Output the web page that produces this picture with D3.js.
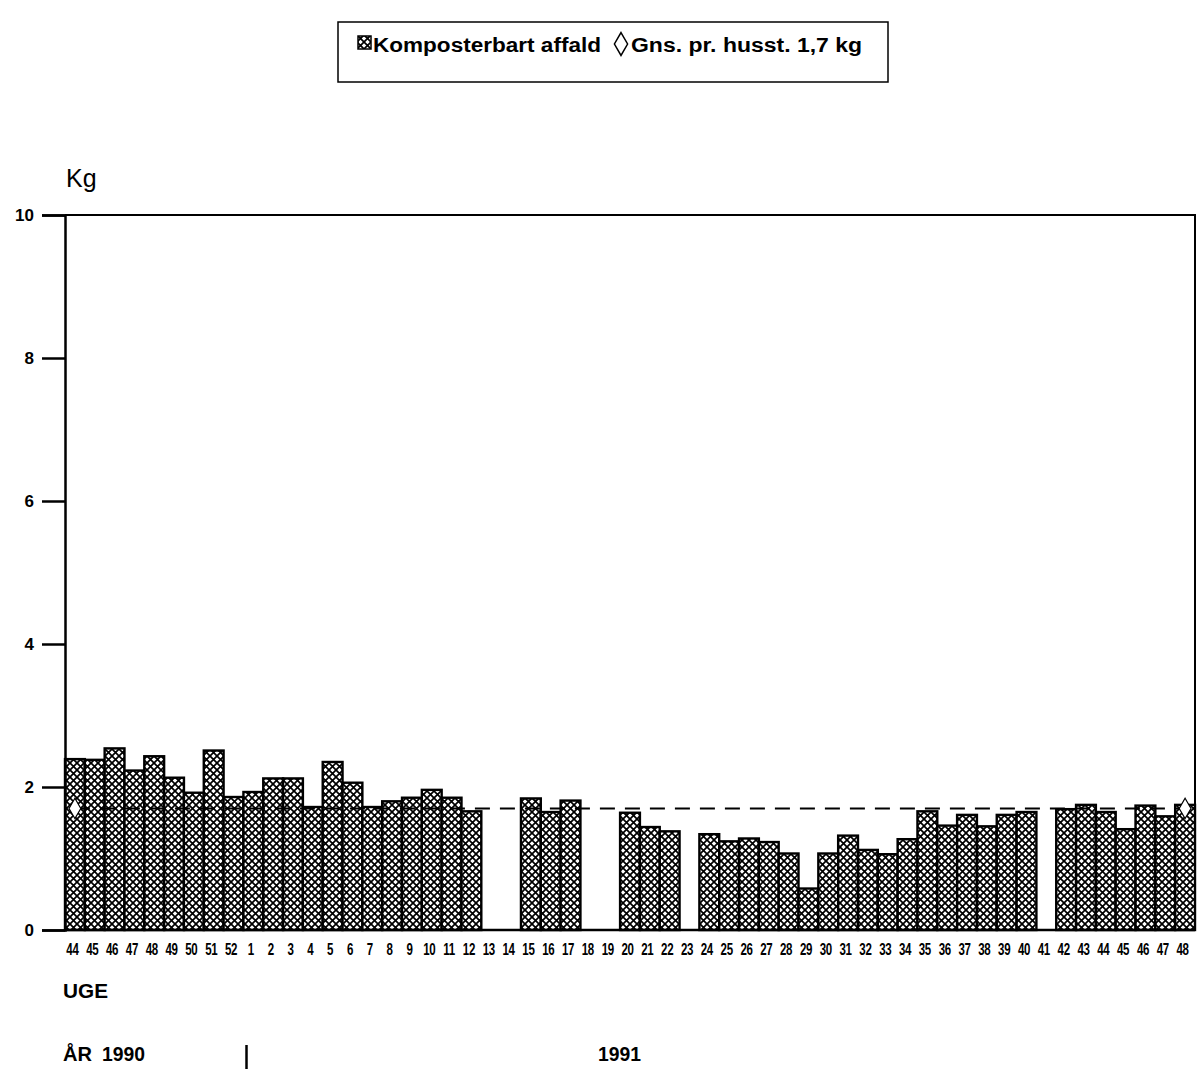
<!DOCTYPE html>
<html>
<head>
<meta charset="utf-8">
<script src="https://cdn.jsdelivr.net/npm/d3@7"></script>
<style>
  html, body { margin: 0; padding: 0; background: #fff; }
  svg { display: block; }
  text { font-family: "Liberation Sans", Arial, sans-serif; fill: #000; }
</style>
</head>
<body>
<script>
// ---- data ----
const weeks = [44,45,46,47,48,49,50,51,52,
  1,2,3,4,5,6,7,8,9,10,11,12,13,14,15,16,17,18,19,20,21,22,23,24,25,26,27,28,29,30,
  31,32,33,34,35,36,37,38,39,40,41,42,43,44,45,46,47,48];
const years = weeks.map((w, i) => i < 9 ? 1990 : 1991);
const values = [2.39,2.38,2.54,2.23,2.43,2.13,1.92,2.51,1.86,
  1.93,2.12,2.12,1.72,2.35,2.06,1.72,1.80,1.85,1.96,1.85,1.66,0,0,1.84,1.65,1.81,0,0,1.64,1.44,1.38,0,
  1.34,1.24,1.28,1.23,1.07,0.58,1.07,1.32,1.12,1.06,1.27,1.66,1.46,1.61,1.45,1.61,1.65,0,
  1.69,1.75,1.65,1.41,1.74,1.59,1.75];
const avgValue = 1.7;
const yTicks = [0,2,4,6,8,10];
const legendLabels = ["Komposterbart affald", "Gns. pr. husst. 1,7 kg"];

// ---- layout ----
const W = 1200, H = 1069;
const svg = d3.select("body").append("svg").attr("width", W).attr("height", H);

const defs = svg.append("defs");
const P = 7;
const pat = defs.append("pattern").attr("id", "hatch")
  .attr("patternUnits", "userSpaceOnUse").attr("width", P).attr("height", P);
pat.append("rect").attr("width", P).attr("height", P).attr("fill", "#fff");
pat.append("path").attr("d", `M-1,-1 L${P+1},${P+1} M-1,${P+1} L${P+1},-1`)
  .attr("stroke", "#000").attr("stroke-width", 1.7).attr("fill", "none");

const keys = weeks.map((w, i) => years[i] + "-" + w);
const x = d3.scaleBand().domain(keys).range([65, 1195]).padding(0);
const y = d3.scaleLinear().domain([0, 10]).range([930, 215]);

// frame (top and right)
svg.append("path").attr("d", `M65,${y(10)} H1195 V${y(0)}`)
  .attr("fill", "none").attr("stroke", "#000").attr("stroke-width", 2);

// bars
const barData = values.map((v, i) => ({ k: keys[i], v }));
svg.append("g").selectAll("rect").data(barData.filter(d => d.v > 0)).join("rect")
  .attr("x", d => x(d.k))
  .attr("y", d => y(d.v))
  .attr("width", x.bandwidth())
  .attr("height", d => y(0) - y(d.v))
  .attr("fill", "url(#hatch)")
  .attr("stroke", "#000").attr("stroke-width", 2.4);

// y axis
const yAxis = d3.axisLeft(y).tickValues(yTicks).tickSize(23).tickPadding(8).tickFormat(d3.format("d"));
const gy = svg.append("g").attr("transform", "translate(65,0)").call(yAxis);
gy.select(".domain").attr("stroke-width", 2.5);
gy.selectAll(".tick line").attr("stroke-width", 2.5);
gy.selectAll(".tick text").style("font-size", "17px").style("font-weight", "bold")
  .style("font-family", "Liberation Sans, Arial, sans-serif");

// baseline
svg.append("line").attr("x1", 65).attr("x2", 1195).attr("y1", y(0)).attr("y2", y(0))
  .attr("stroke", "#000").attr("stroke-width", 2.5);

// x axis labels
const xAxis = d3.axisBottom(x).tickSize(0).tickFormat((k, i) => weeks[i]);
const gx = svg.append("g").attr("transform", `translate(0,${y(0)})`).call(xAxis);
gx.select(".domain").remove();
gx.selectAll(".tick text")
  .attr("y", 25).attr("dy", null)
  .attr("transform", "translate(-2.5,0) scale(0.72,1)")
  .style("font-size", "16px").style("font-weight", "bold")
  .style("font-family", "Liberation Sans, Arial, sans-serif")
  .attr("letter-spacing", "-0.5");

// average dashed line
const line = d3.line().x(d => x(d) + x.bandwidth() / 2).y(() => y(avgValue));
svg.append("path").datum([keys[0], keys[keys.length - 1]]).attr("d", line)
  .attr("fill", "none").attr("stroke", "#000").attr("stroke-width", 2)
  .attr("stroke-dasharray", "15,10");

// diamonds at ends
const diamond = d3.symbol().type(d3.symbolDiamond).size(120);
svg.append("g").selectAll("path").data([keys[0], keys[keys.length - 1]]).join("path")
  .attr("d", diamond)
  .attr("transform", d => `translate(${x(d) + x.bandwidth() / 2},${y(avgValue)})`)
  .attr("fill", "#fff").attr("stroke", "#000").attr("stroke-width", 1.2);

// axis titles
svg.append("text").attr("x", 66).attr("y", 187).style("font-size", "25px").text("Kg");
svg.append("text").attr("x", 63).attr("y", 998).style("font-size", "21px").style("font-weight", "bold")
  .attr("textLength", 45).attr("lengthAdjust", "spacingAndGlyphs").text("UGE");
svg.append("text").attr("x", 63).attr("y", 1061).style("font-size", "21px").style("font-weight", "bold")
  .attr("textLength", 29).attr("lengthAdjust", "spacingAndGlyphs").text("ÅR");
svg.append("text").attr("x", 102).attr("y", 1061).style("font-size", "21px").style("font-weight", "bold")
  .attr("textLength", 43).attr("lengthAdjust", "spacingAndGlyphs").text("1990");
svg.append("text").attr("x", 598).attr("y", 1061).style("font-size", "21px").style("font-weight", "bold")
  .attr("textLength", 43).attr("lengthAdjust", "spacingAndGlyphs").text("1991");
svg.append("line").attr("x1", 246.5).attr("x2", 246.5).attr("y1", 1045).attr("y2", 1069)
  .attr("stroke", "#000").attr("stroke-width", 2.5);

// legend
const lg = svg.append("g");
lg.append("rect").attr("x", 338).attr("y", 22).attr("width", 550).attr("height", 60)
  .attr("fill", "#fff").attr("stroke", "#000").attr("stroke-width", 1.5);
lg.append("rect").attr("x", 358).attr("y", 36).attr("width", 13).attr("height", 13)
  .attr("fill", "url(#hatch)").attr("stroke", "#000").attr("stroke-width", 1.5);
lg.append("text").attr("x", 373).attr("y", 52).style("font-size", "20px").style("font-weight", "bold")
  .attr("textLength", 228).attr("lengthAdjust", "spacingAndGlyphs").text(legendLabels[0]);
lg.append("path").attr("d", d3.symbol().type(d3.symbolDiamond).size(150))
  .attr("transform", "translate(621,44)")
  .attr("fill", "#fff").attr("stroke", "#000").attr("stroke-width", 1.5);
lg.append("text").attr("x", 631).attr("y", 52).style("font-size", "20px").style("font-weight", "bold")
  .attr("textLength", 231).attr("lengthAdjust", "spacingAndGlyphs").text(legendLabels[1]);
</script>
</body>
</html>
